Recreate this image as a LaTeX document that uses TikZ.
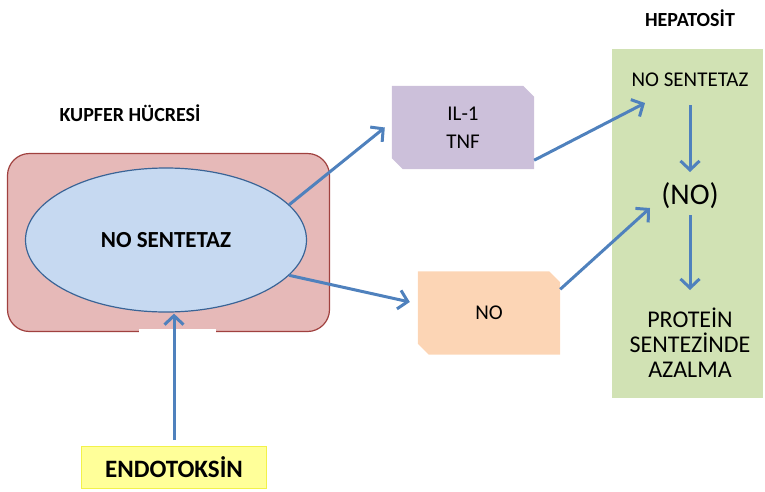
\documentclass[tikz,border=0pt]{standalone}
\usepackage{fontspec}
\setmainfont{Carlito}
\usetikzlibrary{arrows.meta,shapes.geometric,backgrounds}
\definecolor{cellfill}{HTML}{E6B9B8}
\definecolor{celldraw}{HTML}{A0413F}
\definecolor{ellfill}{HTML}{C6D9F1}
\definecolor{elldraw}{HTML}{3A6496}
\definecolor{lav}{HTML}{CCC0DA}
\definecolor{peach}{HTML}{FCD5B5}
\definecolor{hepg}{HTML}{D1E2B4}
\definecolor{arr}{HTML}{4F81BD}
\definecolor{yel}{HTML}{FFFF99}
\definecolor{yeld}{HTML}{F2F24A}
\begin{document}
\begin{tikzpicture}[x=1pt,y=-1pt,
  lbl/.style={font=\bfseries\fontsize{20}{22}\selectfont},
  box/.style={minimum width=142pt,minimum height=83pt,inner sep=0pt,align=center,font=\fontsize{21}{25}\selectfont},
  harrow/.style={draw=arr,line width=3pt,-{Straight Barb[length=9pt,width=19pt,line width=3pt]}},
  htxt/.style={font=\fontsize{21}{25}\selectfont,align=center}]
\useasboundingbox (0,0) rectangle (765,491);
% Kupffer cell
\node[draw=celldraw,fill=cellfill,line width=1.2pt,rounded corners=22pt,minimum width=322pt,minimum height=178pt,inner sep=0pt] (cell) at (168.5,242.5) {};
\fill[white] (139,329) rectangle (216,334.5);
\node[lbl] (kt) at (130,113) {KUPFER HÜCRESİ};
\node[ellipse,draw=elldraw,fill=ellfill,line width=1.2pt,minimum width=281pt,minimum height=144pt,inner sep=0pt,font=\bfseries\fontsize{23}{26}\selectfont] (ell) at (166,240) {NO SENTETAZ};
% IL-1 / TNF box
\node[box] (il) at (463,127.5) {IL-1\\[3pt]TNF};
\begin{scope}[on background layer]
\fill[lav] (il.north west) -- ([xshift=-11pt]il.north east) -- ([yshift=-11pt]il.north east) -- (il.south east) -- ([xshift=11pt]il.south west) -- ([yshift=11pt]il.south west) -- cycle;
\end{scope}
% NO box
\node[box] (no) at (489,313) {NO};
\begin{scope}[on background layer]
\fill[peach] (no.north west) -- ([xshift=-11pt]no.north east) -- ([yshift=-11pt]no.north east) -- (no.south east) -- ([xshift=11pt]no.south west) -- ([yshift=11pt]no.south west) -- cycle;
\end{scope}
% Hepatosit
\node[lbl] (ht) at (690,18) {HEPATOSİT};
\node[fill=hepg,minimum width=151pt,minimum height=349pt,inner sep=0pt] (hep) at (687.5,223.5) {};
\node[htxt] (ns2) at (690,80) {NO SENTETAZ};
\node[font=\fontsize{30}{34}\selectfont] (no2) at (690,196) {(NO)};
\node[htxt,font=\fontsize{24}{25}\selectfont] (prot) at (690,343) {PROTEİN\\SENTEZİNDE\\AZALMA};
% Endotoksin
\node[draw=yeld,fill=yel,line width=1pt,minimum width=185pt,minimum height=42pt,inner sep=0pt,font=\bfseries\fontsize{25}{27}\selectfont] (endo) at (174,467.5) {ENDOTOKSİN};
% arrows
\draw[harrow] (ell.16) -- ([xshift=-7pt]il.west);
\draw[harrow] ([yshift=9pt]il.south east) -- ([xshift=-45pt,yshift=-23pt]ns2.center);
\draw[harrow] (ell.-16) -- ([xshift=-8pt,yshift=11pt]no.west);
\draw[harrow] ([yshift=-18pt]no.north east) -- ([xshift=-40pt,yshift=-12pt]no2.center);
\draw[harrow] ([yshift=-25pt]ns2.center) -- ([yshift=24pt]no2.center);
\draw[harrow] ([yshift=-19pt]no2.center) -- ([yshift=53pt]prot.center);
\draw[harrow] ([yshift=6pt]endo.north) -- ([yshift=-1pt]endo.north |- ell.south);
\end{tikzpicture}
\end{document}
